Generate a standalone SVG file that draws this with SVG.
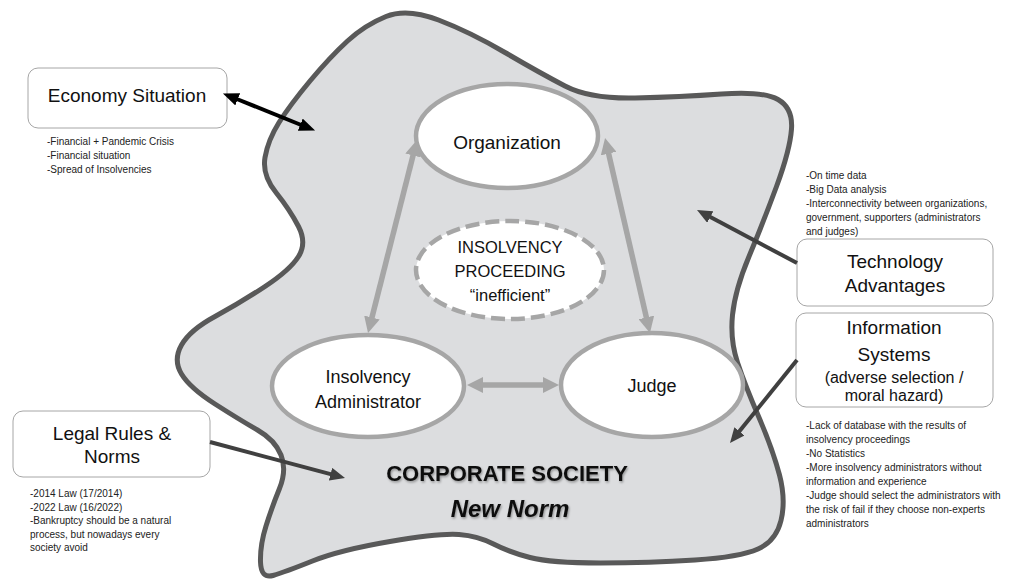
<svg xmlns="http://www.w3.org/2000/svg" width="1027" height="584" viewBox="0 0 1027 584">
<defs>
<style>
.box{fill:#fff;stroke:#a6a6a6;stroke-width:1}
.ell{fill:#fff;stroke:#a6a6a6;stroke-width:4.5}
.t{font-family:"Liberation Sans",Arial,sans-serif;fill:#111;text-anchor:middle}
.n{font-family:"Liberation Sans",Arial,sans-serif;fill:#222;font-size:10px}
.ga{stroke:#a6a6a6;stroke-width:5.5;fill:none}
.da{stroke:#404040;stroke-width:4;fill:none}
.ba{stroke:#000;stroke-width:4;fill:none}
</style>
<marker id="hg" viewBox="0 0 16 16" refX="1" refY="8" markerWidth="16" markerHeight="16" markerUnits="userSpaceOnUse" orient="auto-start-reverse"><path d="M0,0 L16,8 L0,16 z" fill="#a6a6a6"/></marker>
<marker id="hd" viewBox="0 0 15 13" refX="1" refY="6.5" markerWidth="15" markerHeight="13" markerUnits="userSpaceOnUse" orient="auto-start-reverse"><path d="M0,0 L15,6.5 L0,13 z" fill="#404040"/></marker>
<marker id="hb" viewBox="0 0 16 13" refX="1" refY="6.5" markerWidth="16" markerHeight="13" markerUnits="userSpaceOnUse" orient="auto-start-reverse"><path d="M0,0 L16,6.5 L0,13 z" fill="#000"/></marker>
<filter id="sh" x="-10%" y="-30%" width="120%" height="160%"><feDropShadow dx="1" dy="1.5" stdDeviation="1" flood-color="#000" flood-opacity="0.35"/></filter>
</defs>

<g id="corporate-society">
<path d="M 438.5 20 Q 470 32 505 52.5 Q 540 73 565 86 Q 590 99 635 98 Q 680 97 721.5 94 Q 763 91 778 99.5 Q 793 108 791.5 129 Q 790 150 776.5 186.5 Q 763 223 749 256.5 Q 735 290 732.5 315 Q 730 340 737.5 362.5 Q 745 385 759 417.5 Q 773 450 779.5 475 Q 786 500 781 520.5 Q 776 541 758 549 Q 740 557 695 560 Q 650 563 600.5 563 Q 551 563 530 557.5 Q 509 552 493.5 544 Q 478 536 459 534.5 Q 440 533 390 541.5 Q 340 550 312.5 561 Q 285 572 273 575.5 Q 261 579 260.5 562 Q 260 545 266 526 Q 272 507 279.5 488.5 Q 287 470 281 455 Q 275 440 257.5 430 Q 240 420 215 404 Q 190 388 181.5 374 Q 173 360 181.5 345 Q 190 330 215 316.5 Q 240 303 265 286.5 Q 290 270 298.5 256.5 Q 307 243 298.5 226.5 Q 290 210 276 192.5 Q 262 175 265 157.5 Q 268 140 279 122.5 Q 290 105 310 81 Q 330 57 347.5 41 Q 365 25 386 16.5 Q 407 8 438.5 20 Z" fill="#dcdddf" stroke="#595959" stroke-width="5" stroke-linejoin="round"/>
<g filter="url(#sh)">
<text class="t" x="507" y="481" font-size="22" font-weight="bold">CORPORATE SOCIETY</text>
<text class="t" x="510" y="517" font-size="24" font-weight="bold" font-style="italic">New Norm</text>
</g>
</g>

<g id="organization">
<ellipse class="ell" cx="507" cy="136" rx="91" ry="52"/>
<text class="t" x="507" y="149" font-size="19">Organization</text>
</g>

<g id="insolvency-proceeding">
<ellipse cx="510" cy="270" rx="94" ry="49" fill="#fff" stroke="#a6a6a6" stroke-width="4.5" stroke-dasharray="14 6"/>
<text class="t" x="510" y="253" font-size="16.5">INSOLVENCY</text>
<text class="t" x="510" y="277" font-size="16.5">PROCEEDING</text>
<text class="t" x="510" y="301" font-size="16.5">“inefficient”</text>
</g>

<g id="insolvency-administrator">
<ellipse class="ell" cx="368" cy="386" rx="96" ry="51"/>
<text class="t" x="368" y="383" font-size="18">Insolvency</text>
<text class="t" x="368" y="408" font-size="18">Administrator</text>
</g>

<g id="judge">
<ellipse class="ell" cx="652" cy="385" rx="91" ry="52"/>
<text class="t" x="652" y="392" font-size="18">Judge</text>
</g>

<g id="economy-situation">
<rect class="box" x="28" y="68" width="199" height="60" rx="10"/>
<text class="t" x="127" y="102" font-size="19">Economy Situation</text>
<text class="n" x="47" y="145">-Financial + Pandemic Crisis</text>
<text class="n" x="47" y="159">-Financial situation</text>
<text class="n" x="47" y="173">-Spread of Insolvencies</text>
</g>

<g id="technology-advantages">
<text class="n" x="806" y="179">-On time data</text>
<text class="n" x="806" y="193">-Big Data analysis</text>
<text class="n" x="806" y="207">-Interconnectivity between organizations,</text>
<text class="n" x="806" y="221">government, supporters (administrators</text>
<text class="n" x="806" y="235">and judges)</text>
<rect class="box" x="797" y="239" width="196" height="67" rx="10"/>
<text class="t" x="895" y="268" font-size="19">Technology</text>
<text class="t" x="895" y="292" font-size="19">Advantages</text>
</g>

<g id="information-systems">
<rect class="box" x="796" y="313" width="197" height="94" rx="10"/>
<text class="t" x="894" y="334" font-size="19">Information</text>
<text class="t" x="894" y="361" font-size="19">Systems</text>
<text class="t" x="894" y="383" font-size="16">(adverse selection /</text>
<text class="t" x="894" y="401" font-size="16">moral hazard)</text>
<text class="n" x="806" y="429">-Lack of database with the results of</text>
<text class="n" x="806" y="443">insolvency proceedings</text>
<text class="n" x="806" y="457">-No Statistics</text>
<text class="n" x="806" y="471">-More insolvency administrators without</text>
<text class="n" x="806" y="485">information and experience</text>
<text class="n" x="806" y="499">-Judge should select the administrators with</text>
<text class="n" x="806" y="513">the risk of fail if they choose non-experts</text>
<text class="n" x="806" y="527">administrators</text>
</g>

<g id="legal-rules-norms">
<rect class="box" x="13" y="411" width="197" height="66" rx="10"/>
<text class="t" x="112" y="440" font-size="19">Legal Rules &amp;</text>
<text class="t" x="112" y="463" font-size="19">Norms</text>
<text class="n" x="30" y="497">-2014 Law (17/2014)</text>
<text class="n" x="30" y="511">-2022 Law (16/2022)</text>
<text class="n" x="30" y="524">-Bankruptcy should be a natural</text>
<text class="n" x="30" y="538">process, but nowadays every</text>
<text class="n" x="30" y="551">society avoid</text>
</g>

<g id="connectors">
<line class="ba" x1="236.8" y1="99" x2="301.2" y2="125" marker-start="url(#hb)" marker-end="url(#hb)"/>
<line class="da" x1="797" y1="263" x2="709.4" y2="216.6" marker-end="url(#hd)"/>
<line class="da" x1="797" y1="360" x2="738.8" y2="432.1" marker-end="url(#hd)"/>
<line class="da" x1="210" y1="442" x2="331.5" y2="474.4" marker-end="url(#hd)"/>
<line class="ga" x1="413.3" y1="154.5" x2="371.7" y2="318.5" marker-start="url(#hg)" marker-end="url(#hg)"/>
<line class="ga" x1="608.4" y1="152.6" x2="646.6" y2="318.4" marker-start="url(#hg)" marker-end="url(#hg)"/>
<line class="ga" x1="482" y1="385" x2="544" y2="385" marker-start="url(#hg)" marker-end="url(#hg)"/>
</g>
</svg>
